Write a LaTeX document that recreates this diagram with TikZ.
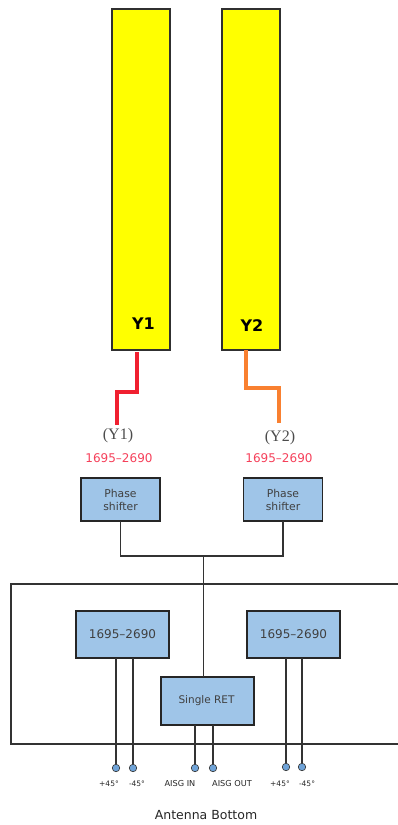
\documentclass[tikz,border=0pt]{standalone}
\usepackage{fontspec}
\setmainfont{DejaVu Sans}
\newfontfamily\serifnote{Liberation Serif}
\usetikzlibrary{calc}

\definecolor{arrayyellow}{RGB}{255,255,0}
\definecolor{bandblue}{HTML}{9FC5E8}
\definecolor{portblue}{HTML}{6FA3D8}
\definecolor{feedred}{HTML}{F02030}
\definecolor{feedorange}{HTML}{F98030}
\definecolor{rangered}{HTML}{F5405A}
\definecolor{boxline}{HTML}{303030}

\begin{document}
\begin{tikzpicture}[
        x=1pt,
        y=-1pt,
        radiator/.style={
            draw=boxline,
            fill=arrayyellow,
            line width=1.1pt,
            minimum width=58pt,
            minimum height=341pt,
            inner sep=0pt,
            outer sep=0pt
        },
        bluebox/.style={
            draw=black!85,
            fill=bandblue,
            line width=1.1pt,
            align=center,
            text=black!75,
            inner sep=0pt,
            outer sep=0pt
        },
        shifterbox/.style={
            bluebox,
            minimum width=79pt,
            minimum height=43pt,
            font=\fontsize{10.8}{13}\selectfont
        },
        bandbox/.style={
            bluebox,
            minimum width=93pt,
            minimum height=47pt,
            font=\fontsize{12}{14}\selectfont
        },
        retbox/.style={
            bluebox,
            minimum width=93pt,
            minimum height=48pt,
            font=\fontsize{10.5}{12}\selectfont
        },
        port/.style={
            circle,
            draw=black!80,
            fill=portblue,
            line width=0.6pt,
            minimum size=7.5pt,
            inner sep=0pt,
            outer sep=0pt
        },
        portlabel/.style={
            font=\fontsize{7.5}{8}\selectfont,
            text=black!85,
            inner sep=0pt
        },
        aisglabel/.style={
            portlabel,
            font=\fontsize{8.2}{8}\selectfont
        },
        rangelabel/.style={
            font=\fontsize{12}{14}\selectfont,
            text=rangered,
            inner sep=0pt
        },
        feedlabel/.style={
            font=\serifnote\fontsize{16}{18}\selectfont,
            text=black!70,
            inner sep=0pt
        },
        arraylabel/.style={
            font=\fontsize{16}{18}\selectfont\bfseries,
            inner sep=0pt
        },
        wire/.style={
            draw=black!80,
            line width=1.1pt
        },
        feedredline/.style={
            draw=feedred,
            line width=3.2pt
        },
        feedorangeline/.style={
            draw=feedorange,
            line width=3.2pt
        }
    ]

        \useasboundingbox (0,0) rectangle (398,825);

        % ---------------------------------------------------------------------
        % Radiating arrays
        % ---------------------------------------------------------------------

        \node[radiator] (array1) at (141,179.5) {};
        \node[radiator] (array2) at (251,179.5) {};
        \node[arraylabel] (name1) at (143.5,324) {Y1};
        \node[arraylabel] (name2) at (252,326) {Y2};

        % ---------------------------------------------------------------------
        % Feed lines and their labels
        % ---------------------------------------------------------------------

        \node[feedlabel] (feed1) at (118,436) {(Y1)};
        \node[feedlabel] (feed2) at (280,438) {(Y2)};
        \node[rangelabel] (range1) at (119,458) {1695--2690};
        \node[rangelabel] (range2) at (279,458) {1695--2690};

        \coordinate (start1) at (137,352);
        \coordinate (start2) at (246,350);
        \coordinate (end1) at (117,425);
        \coordinate (end2) at (279,423);

        \draw[feedredline] (start1) |- (117,392) -- (end1);
        \draw[feedorangeline] (start2) |- (279,388) -- (end2);

        % ---------------------------------------------------------------------
        % Phase shifters
        % ---------------------------------------------------------------------

        \node[shifterbox] (shifter1) at (120.5,499.5) {Phase\\shifter};
        \node[shifterbox] (shifter2) at (283,499.5) {Phase\\shifter};

        % ---------------------------------------------------------------------
        % Antenna bottom frame
        % ---------------------------------------------------------------------

        \coordinate (frametop) at (398,584);
        \coordinate (framebottom) at (398,744);
        \draw[wire] (frametop) -- (11,584) -- (11,744) -- (framebottom);

        \node[bandbox] (band1) at (122.5,634.5) {1695--2690};
        \node[bandbox] (band2) at (293.5,634.5) {1695--2690};
        \node[retbox] (ret) at (207.5,701) {\hspace*{-2pt}Single RET};

        \coordinate (trunk) at (203.5,556);
        \draw[wire] (shifter1.south) |- (trunk) -| (shifter2.south);
        \draw[wire] (trunk) -- (trunk |- ret.north);

        % ---------------------------------------------------------------------
        % Ports at the bottom
        % ---------------------------------------------------------------------

        \node[port] (port1) at (116,768) {};
        \node[port] (port2) at (133,768) {};
        \node[port] (port3) at (195,768) {};
        \node[port] (port4) at (213,768) {};
        \node[port] (port5) at (286,767) {};
        \node[port] (port6) at (302,767) {};

        \draw[wire] (port1) -- (port1 |- band1.south);
        \draw[wire] (port2) -- (port2 |- band1.south);
        \draw[wire] (port3) -- (port3 |- ret.south);
        \draw[wire] (port4) -- (port4 |- ret.south);
        \draw[wire] (port5) -- (port5 |- band2.south);
        \draw[wire] (port6) -- (port6 |- band2.south);

        \node[portlabel] (label1) at (109,784) {+45°};
        \node[portlabel] (label2) at (137,784) {-45°};
        \node[aisglabel] (label3) at (180,784) {AISG IN};
        \node[aisglabel] (label4) at (232,784) {AISG OUT};
        \node[portlabel] (label5) at (280,784) {+45°};
        \node[portlabel] (label6) at (307,784) {-45°};

        \node[font=\fontsize{12.5}{14}\selectfont, text=black!85, inner sep=0pt] (bottom) at (206,815) {Antenna Bottom};

    \end{tikzpicture}
\end{document}
